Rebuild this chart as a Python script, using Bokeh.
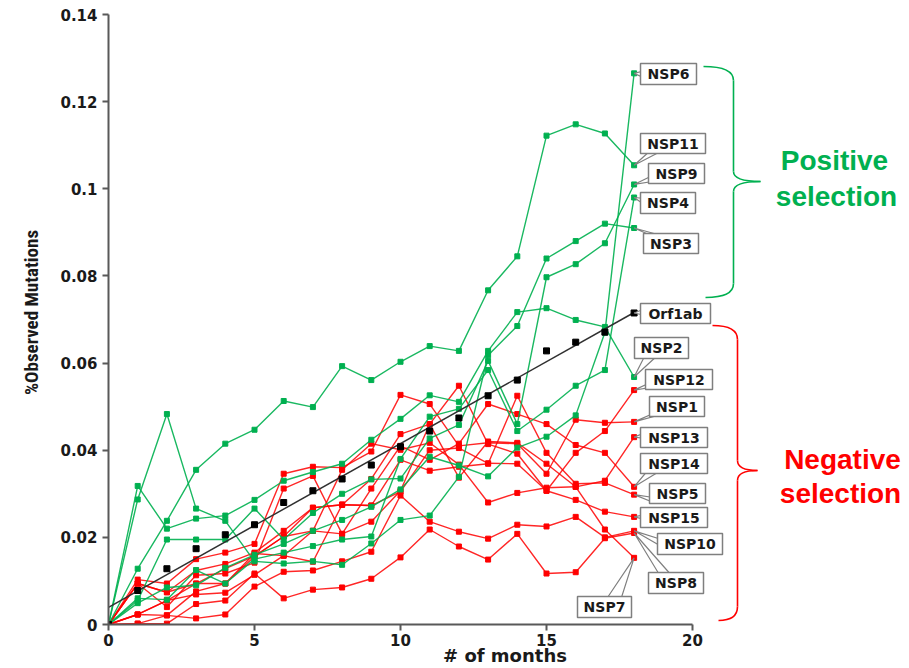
import numpy as np
from bokeh.plotting import figure
from bokeh.models import Range1d, FixedTicker
from bokeh.embed import file_html
from bokeh.resources import INLINE
from bokeh.core.properties import value

# ---------------- data ----------------
months = list(range(19))

NSP6 = [0, 0.0049, 0.0085, 0.009, 0.013, 0.016, 0.0185, 0.0215, 0.024, 0.027, 0.031, 0.0385, 0.0365, 0.034, 0.0406, 0.0431, 0.048, 0.067, 0.1265]
NSP11 = [0, 0.0128, 0.0238, 0.0355, 0.0415, 0.0447, 0.0513, 0.0499, 0.0593, 0.0561, 0.0603, 0.0639, 0.0628, 0.0767, 0.0845, 0.1122, 0.1148, 0.1127, 0.1054]
NSP9 = [0, 0.0055, 0.0195, 0.0195, 0.0195, 0.0266, 0.0195, 0.0256, 0.030, 0.0333, 0.0335, 0.0427, 0.0458, 0.0605, 0.046, 0.0797, 0.0827, 0.0875, 0.101]
NSP4 = [0, 0.006, 0.0057, 0.0125, 0.0094, 0.015, 0.0165, 0.018, 0.0195, 0.0202, 0.038, 0.0477, 0.0495, 0.0584, 0.0444, 0.0493, 0.0548, 0.0584, 0.098]
NSP3 = [0, 0.0287, 0.0483, 0.0266, 0.0238, 0.0145, 0.014, 0.0145, 0.0137, 0.0186, 0.024, 0.025, 0.0339, 0.0618, 0.0685, 0.084, 0.088, 0.092, 0.091]
NSP2 = [0, 0.0318, 0.022, 0.0243, 0.025, 0.0286, 0.033, 0.035, 0.0369, 0.0424, 0.0472, 0.0526, 0.0511, 0.0628, 0.0717, 0.0726, 0.0699, 0.0683, 0.0568]

NSP12 = [0, 0.0094, 0.0074, 0.0124, 0.0139, 0.0165, 0.0215, 0.0268, 0.0275, 0.0334, 0.0437, 0.046, 0.0548, 0.0414, 0.0392, 0.0307, 0.0394, 0.0444, 0.0538]
NSP1 = [0, 0.0103, 0.0094, 0.015, 0.0165, 0.0185, 0.0346, 0.0362, 0.036, 0.0397, 0.0527, 0.0506, 0.041, 0.0417, 0.0415, 0.0346, 0.047, 0.0463, 0.0465]
NSP13 = [0, 0.0023, 0.0055, 0.0094, 0.0128, 0.0157, 0.0202, 0.0215, 0.0355, 0.0415, 0.0401, 0.0417, 0.0367, 0.028, 0.0302, 0.0314, 0.0316, 0.033, 0.043]
NSP14 = [0, 0.0094, 0.004, 0.0113, 0.0117, 0.0142, 0.0312, 0.0341, 0.0208, 0.0312, 0.041, 0.0378, 0.0415, 0.0506, 0.0483, 0.046, 0.0412, 0.0394, 0.0316]
NSP5 = [0, 0.0023, 0.0021, 0.0076, 0.0094, 0.0163, 0.0158, 0.0144, 0.0275, 0.0273, 0.0378, 0.0353, 0.0362, 0.0369, 0.0525, 0.0394, 0.0323, 0.0325, 0.0298]
NSP15 = [0, 0.0094, 0.0074, 0.0094, 0.0094, 0.0156, 0.0202, 0.0268, 0.0275, 0.0273, 0.0305, 0.040, 0.0405, 0.037, 0.0369, 0.0307, 0.0286, 0.0259, 0.0247]
NSP10 = [0, 0.0002, 0.0021, 0.0014, 0.0023, 0.0087, 0.0121, 0.0124, 0.0145, 0.0167, 0.0296, 0.0236, 0.0213, 0.0197, 0.0229, 0.0225, 0.0247, 0.020, 0.0215]
NSP8 = [0, 0.0002, 0.0002, 0.0047, 0.0055, 0.0117, 0.006, 0.008, 0.0085, 0.0105, 0.0154, 0.0218, 0.0179, 0.0149, 0.0208, 0.0117, 0.012, 0.0198, 0.021]
NSP7 = [0, 0.0023, 0.0055, 0.0069, 0.0073, 0.0114, 0.0158, 0.0215, 0.0208, 0.0236, 0.0307, 0.046, 0.0337, 0.042, 0.0417, 0.0369, 0.0316, 0.0218, 0.0153]

Orf1ab = [0, 0.0078, 0.0128, 0.0174, 0.0206, 0.0229, 0.028, 0.0307, 0.0334, 0.0366, 0.0408, 0.0444, 0.0474, 0.0525, 0.0561, 0.0628, 0.0648, 0.0671, 0.0715]

green_series = {"NSP6": NSP6, "NSP11": NSP11, "NSP9": NSP9, "NSP4": NSP4, "NSP3": NSP3, "NSP2": NSP2}
red_series = {"NSP12": NSP12, "NSP1": NSP1, "NSP13": NSP13, "NSP14": NSP14, "NSP5": NSP5,
              "NSP15": NSP15, "NSP10": NSP10, "NSP8": NSP8, "NSP7": NSP7}
all_series = dict(green_series)
all_series.update(red_series)
all_series["Orf1ab"] = Orf1ab

x_ticks = [0, 5, 10, 15, 20]
y_ticks = [0, 0.02, 0.04, 0.06, 0.08, 0.1, 0.12, 0.14]

GREEN = "#00B050"
RED = "#FF0000"

# ---------------- layout helpers (reference pixel -> data) ----------------
PX_PER_X = 29.2
PX_PER_Y = 4357.0
LEFT = 108
BASE = 624
def dx(px):
    return (px - LEFT) / PX_PER_X
def dy(py):
    return (BASE - py) / PX_PER_Y

W, H = 901, 668
p = figure(width=W, height=H, output_backend="svg", toolbar_location=None,
           x_range=Range1d(0, (W - LEFT) / PX_PER_X), y_range=Range1d(0, BASE / PX_PER_Y),
           min_border_left=LEFT, min_border_right=0, min_border_top=0, min_border_bottom=H - BASE)
p.outline_line_color = None
p.xgrid.visible = False
p.ygrid.visible = False

for ax, ticks, bounds in ((p.xaxis[0], x_ticks, (0, 20)), (p.yaxis[0], y_ticks, (0, 0.14))):
    ax.ticker = FixedTicker(ticks=ticks)
    ax.bounds = bounds
    ax.axis_line_color = "#595959"
    ax.axis_line_width = 2
    ax.major_tick_line_color = "#595959"
    ax.major_tick_line_width = 2
    ax.major_tick_out = 6
    ax.major_tick_in = 0
    ax.minor_tick_line_color = None
    ax.major_label_text_font = "DejaVu Sans"
    ax.major_label_text_font_style = "bold"
    ax.major_label_text_font_size = "15px"
    ax.major_label_text_color = "#1a1a1a"
    ax.major_label_standoff = 5

p.xaxis[0].major_label_standoff = 3
p.xaxis[0].axis_label = "# of months"
p.xaxis[0].axis_label_text_font = "DejaVu Sans"
p.xaxis[0].axis_label_text_font_style = "bold"
p.xaxis[0].axis_label_text_font_size = "18px"
p.xaxis[0].axis_label_text_color = "#1a1a1a"
p.xaxis[0].axis_label_standoff = -4

p.yaxis[0].major_label_overrides = {0: "0", 0.1: "0.1"}
p.yaxis[0].axis_label = "%Observed Mutations"
p.yaxis[0].axis_label_text_font = "Liberation Sans Narrow, Roboto Condensed, Liberation Sans"
p.yaxis[0].axis_label_text_font_style = "bold"
p.yaxis[0].axis_label_text_font_size = "19px"
p.yaxis[0].axis_label_text_color = "#1a1a1a"
p.yaxis[0].axis_label_standoff = 14

# ---------------- series ----------------
for name, ys in red_series.items():
    p.line(months, ys, line_color=RED, line_width=1.4, line_alpha=0.85)
    p.scatter(months, ys, marker="square", size=5, fill_color=RED, line_color=RED)
for name, ys in green_series.items():
    p.line(months, ys, line_color=GREEN, line_width=1.4, line_alpha=0.9)
    p.scatter(months, ys, marker="square", size=5, fill_color=GREEN, line_color=GREEN)

coef = np.polyfit(months, Orf1ab, 1)
trend_x = [months[0], months[-1]]
p.line(trend_x, list(np.polyval(coef, trend_x)), line_color="#303030", line_width=1.5)
p.scatter(months, Orf1ab, marker="square", size=6, fill_color="black", line_color="black")

# ---------------- callout boxes ----------------
# name: (box left, top, right, bottom) in reference pixels, callout base points
boxes = {
    "NSP6": ((640, 63, 696, 84), (645, 70), (645, 78)),
    "NSP11": ((640, 133, 705, 153), (650, 150), (662, 150)),
    "NSP9": ((648, 163, 704, 183), (652, 175), (652, 181)),
    "NSP4": ((640, 192, 695, 213), (645, 198), (645, 205)),
    "NSP3": ((643, 233, 698, 253), (655, 237), (668, 237)),
    "Orf1ab": ((640, 303, 710, 323), (645, 308), (645, 315)),
    "NSP2": ((634, 337, 688, 358), (645, 354), (658, 354)),
    "NSP12": ((645, 369, 712, 389), (650, 382), (650, 387)),
    "NSP1": ((649, 396, 704, 416), (655, 412), (668, 412)),
    "NSP13": ((640, 427, 707, 447), (645, 432), (645, 438)),
    "NSP14": ((640, 453, 707, 473), (648, 469), (662, 469)),
    "NSP5": ((649, 483, 705, 503), (653, 497), (653, 502)),
    "NSP15": ((640, 507, 707, 527), (645, 514), (645, 519)),
    "NSP10": ((657, 533, 722, 554), (661, 539), (661, 546)),
    "NSP8": ((648, 572, 703, 593), (660, 576), (672, 576)),
    "NSP7": ((577, 596, 631, 617), (605, 600), (620, 600)),
}

cxs, cys = [], []
bx, by, bw, bh, names = [], [], [], [], []
for name, (rect, b1, b2) in boxes.items():
    ys = all_series[name]
    cxs.append([months[-1], dx(b1[0]), dx(b2[0])])
    cys.append([ys[-1], dy(b1[1]), dy(b2[1])])
    l, t, r, b = rect
    bx.append(dx((l + r) / 2))
    by.append(dy((t + b) / 2))
    bw.append(r - l)
    bh.append(b - t)
    names.append(name)

p.patches(cxs, cys, fill_color="white", line_color="#808080", line_width=1.2)
p.rect(x=bx, y=by, width=bw, height=bh, width_units="screen", height_units="screen",
       fill_color="white", line_color="#7f7f7f", line_width=1.5)
p.text(x=bx, y=by, text=names, text_font=value("DejaVu Sans"), text_font_style="bold",
       text_font_size="14px", text_align="center", text_baseline="middle", text_color="#1a1a1a")

# ---------------- braces ----------------
def brace(xv, top, bot, cusp_y, tip_x, end_top_x, end_bot_x, color):
    kw = dict(line_color=color, line_width=1.6)
    p.quadratic(x0=[dx(end_top_x)], y0=[dy(top)], x1=[dx(xv)], y1=[dy(top + 14)],
                cx=[dx(xv)], cy=[dy(top)], **kw)
    p.segment(x0=[dx(xv)], y0=[dy(top + 14)], x1=[dx(xv)], y1=[dy(cusp_y - 10)], **kw)
    p.quadratic(x0=[dx(xv)], y0=[dy(cusp_y - 10)], x1=[dx(tip_x)], y1=[dy(cusp_y)],
                cx=[dx(xv)], cy=[dy(cusp_y)], **kw)
    p.quadratic(x0=[dx(tip_x)], y0=[dy(cusp_y)], x1=[dx(xv)], y1=[dy(cusp_y + 10)],
                cx=[dx(xv)], cy=[dy(cusp_y)], **kw)
    p.segment(x0=[dx(xv)], y0=[dy(cusp_y + 10)], x1=[dx(xv)], y1=[dy(bot - 14)], **kw)
    p.quadratic(x0=[dx(xv)], y0=[dy(bot - 14)], x1=[dx(end_bot_x)], y1=[dy(bot)],
                cx=[dx(xv)], cy=[dy(bot)], **kw)

brace(733, 66, 297, 181, 760, 703, 705, GREEN)
brace(737, 325, 620, 470, 757, 712, 718, RED)

side_text = [("Positive", 834, 160, GREEN), ("selection", 836, 196, GREEN),
             ("Negative", 842, 459, RED), ("selection", 840, 493, RED)]
p.text(x=[dx(t[1]) for t in side_text], y=[dy(t[2]) for t in side_text],
       text=[t[0] for t in side_text], text_color=[t[3] for t in side_text],
       text_font=value("Liberation Sans"), text_font_style="bold", text_font_size="28px",
       text_align="center", text_baseline="middle")

open("out.html", "w").write(file_html(p, INLINE))
